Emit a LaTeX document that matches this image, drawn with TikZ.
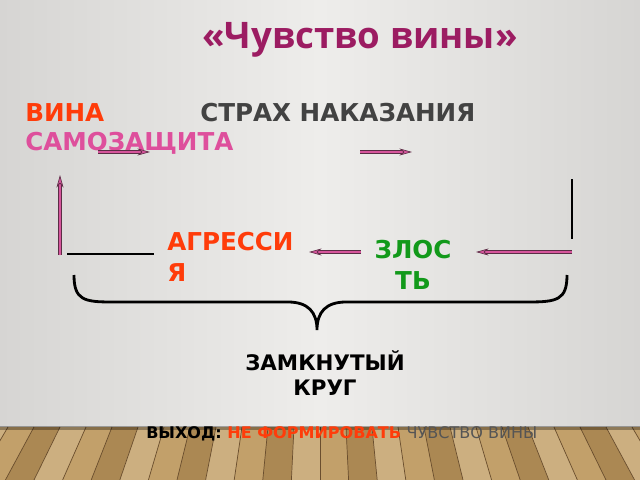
\documentclass[tikz,border=0pt]{standalone}
\usepackage{fontspec}
\setmainfont{DejaVu Sans}
\newfontfamily\titlefont{Open Sans}
\usetikzlibrary{arrows.meta,positioning}
\definecolor{wallmid}{HTML}{EEEDEB}
\definecolor{walledge}{HTML}{D6D5D3}
\definecolor{titlepurple}{HTML}{9C1C62}
\definecolor{redorange}{HTML}{FF3C0A}
\definecolor{strahgray}{HTML}{424242}
\definecolor{pinktext}{HTML}{DE4F9C}
\definecolor{arrowpink}{HTML}{D6559C}
\definecolor{arrowedge}{HTML}{5B2D45}
\definecolor{zlgreen}{HTML}{12991A}
\definecolor{exitgray}{HTML}{555555}
\definecolor{woodA}{HTML}{C2A06A}
\definecolor{woodB}{HTML}{AB8853}
\definecolor{woodC}{HTML}{CCAF80}
\definecolor{woodline}{HTML}{6A4E2E}
\tikzstyle{bigword} = [font=\bfseries\fontsize{17.5}{22}\selectfont, inner sep=0pt]
\tikzstyle{smallword} = [font=\bfseries\fontsize{11.4}{14}\selectfont, inner sep=0pt]
\tikzstyle{pinkarrow} = [draw=arrowedge, line width=0.45pt, double=arrowpink, double distance=1.9pt, -{Stealth[length=9pt, width=5pt, fill=arrowpink, line width=0.45pt]}]
\tikzstyle{blackline} = [line width=1.3pt, black]
\begin{document}
\begin{tikzpicture}[x=0.025cm, y=-0.025cm]
	\useasboundingbox (0,0) rectangle (640,480);
	\shade[left color=walledge, right color=walledge, middle color=wallmid] (0,0) rectangle (640,427);
	% floor
	\fill[woodB] (0,427) rectangle (640,480);
	\foreach \i [evaluate=\i as \m using {int(mod(\i+30,3))}] in {-14,...,13} {
		\ifnum\m=0 \def\plank{woodA}\fi
		\ifnum\m=1 \def\plank{woodB}\fi
		\ifnum\m=2 \def\plank{woodC}\fi
		\fill[\plank] ({320+\i*26},427) -- ({320+(\i+1)*26},427) -- ({320+(\i+1)*26*1.1},480) -- ({320+\i*26*1.1},480) -- cycle;
		\draw[woodline, line width=0.5pt] ({320+\i*26},427) -- ({320+\i*26*1.1},480);
	}
	\fill[black, opacity=0.3] (0,426) rectangle (640,430);

	\node (title) at (360,40) [font=\titlefont\bfseries\fontsize{26}{31}\selectfont, text=titlepurple, inner sep=0pt] {«Чувство вины»};
	\node (vina) [bigword, text=redorange, anchor=west] at (25,113) {ВИНА};
	\node (strah) [bigword, text=strahgray, anchor=west] at (200,113) {СТРАХ НАКАЗАНИЯ};
	\node (samo) [bigword, text=pinktext, anchor=west] at (25,143) {САМОЗАЩИТА};
	\node (agr) [bigword, text=redorange, anchor=north west, align=left] at (167,232) {АГРЕССИ\\Я};
	\node (zlost) [bigword, text=zlgreen, anchor=north, align=center] at (413,240) {ЗЛОС\\ТЬ};
	\node (zamk) [font=\bfseries\fontsize{15.2}{17.8}\selectfont, inner sep=0pt, align=center, anchor=north] at (325,350) {ЗАМКНУТЫЙ\\КРУГ};
	\node (exit) [smallword, anchor=west] at (146,434) {ВЫХОД: \textcolor{redorange}{НЕ ФОРМИРОВАТЬ} \textcolor{exitgray}{\mdseries ЧУВСТВО ВИНЫ}};

	\coordinate (a1s) at (98,152);  \coordinate (a1e) at (150,152);
	\coordinate (a2s) at (360,152); \coordinate (a2e) at (412,152);
	\coordinate (rtop) at (572,179); \coordinate (rbot) at (572,239);
	\coordinate (a3s) at (572,252); \coordinate (a3e) at (476,252);
	\coordinate (a4s) at (361,252); \coordinate (a4e) at (309,252);
	\coordinate (lls) at (67,254);  \coordinate (lle) at (154,254);
	\coordinate (a5s) at (60,255);  \coordinate (a5e) at (60,175);
	\draw [pinkarrow] (a1s) -- (a1e);
	\draw [pinkarrow] (a2s) -- (a2e);
	\draw [blackline] (rtop) -- (rbot);
	\draw [pinkarrow] (a3s) -- (a3e);
	\draw [pinkarrow] (a4s) -- (a4e);
	\draw [blackline] (lls) -- (lle);
	\draw [pinkarrow] (a5s) -- (a5e);

	\coordinate (bl) at (74,275); \coordinate (bm) at (317,330); \coordinate (br) at (567,275);
	\draw [line width=2pt] (bl) .. controls (74,300) and (84,302) .. (112,302) -- (288,302) .. controls (308,302) and (317,312) .. (bm)
		.. controls (317,312) and (326,302) .. (346,302) -- (528,302) .. controls (557,302) and (567,300) .. (br);
\end{tikzpicture}
\end{document}
